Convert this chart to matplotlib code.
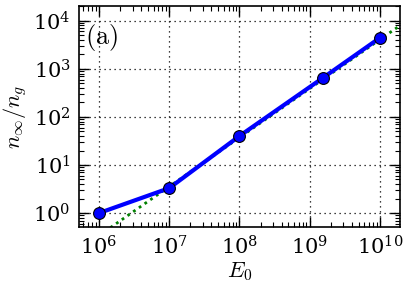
import matplotlib
matplotlib.use("Agg")
import matplotlib.pyplot as plt
from matplotlib.ticker import LogLocator, NullFormatter

plt.rcParams['mathtext.fontset'] = 'cm'
plt.rcParams['font.family'] = 'serif'
plt.rcParams['font.serif'] = ['DejaVu Serif']

E0 = [1e6, 1e7, 1e8, 1.55e9, 1e10]
ratio = [1.0, 3.3, 40, 650, 4400]
fit_x = [1e6, 2e10]
fit_y = [0.34, 8200]

fig = plt.figure(figsize=(4.07, 2.95), dpi=100)
ax = fig.add_axes([0.194, 0.2305, 0.789, 0.7495])

ax.plot(fit_x, fit_y, linestyle=(0, (1, 1.5)), color=(0, 0.5, 0), lw=2, zorder=2)
ax.plot(E0, ratio, '-o', color='blue', lw=3, ms=8.5, mfc='blue', mec='black', mew=0.8, zorder=3)

ax.set_xscale('log')
ax.set_yscale('log')
ax.set_xlim(10**5.714, 10**10.29)
ax.set_ylim(10**-0.29, 10**4.31)

ax.xaxis.set_major_locator(LogLocator(base=10, numticks=20))
ax.yaxis.set_major_locator(LogLocator(base=10, numticks=20))
ax.xaxis.set_minor_locator(LogLocator(base=10, subs=range(2, 10), numticks=20))
ax.yaxis.set_minor_locator(LogLocator(base=10, subs=range(2, 10), numticks=20))
ax.xaxis.set_minor_formatter(NullFormatter())
ax.yaxis.set_minor_formatter(NullFormatter())

ax.tick_params(which='both', direction='in', top=True, right=True)
ax.tick_params(which='major', length=7, width=1, labelsize=15, pad=6)
ax.tick_params(which='minor', length=3.5, width=0.8)
ax.grid(True, which='major', linestyle=(0, (1, 3)), color='black', lw=0.9)
for s in ax.spines.values():
    s.set_linewidth(1.2)

ax.set_xlabel(r'$E_0$', fontsize=16, labelpad=1)
ax.set_ylabel(r'$n_\infty/n_g$', fontsize=16, labelpad=3)
ax.text(0.019, 0.855, r'$\mathrm{(a)}$', transform=ax.transAxes, fontsize=19,
        va='center', ha='left')

fig.savefig('out.png', dpi=100)
